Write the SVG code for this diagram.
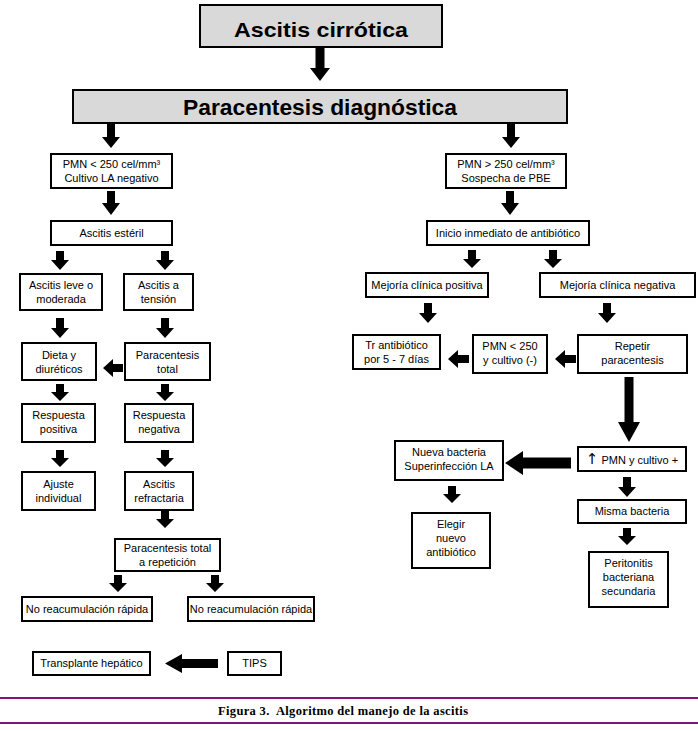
<svg xmlns="http://www.w3.org/2000/svg" width="698" height="731" viewBox="0 0 698 731">
<style>
.box{fill:#fff;stroke:#000;stroke-width:2}
.gbox{fill:#d9d9d9;stroke:#000;stroke-width:2}
.t{font-family:"Liberation Sans",Arial,sans-serif;font-size:11px;fill:#000;text-anchor:middle}
.h{font-family:"Liberation Sans",Arial,sans-serif;font-weight:bold;fill:#000;text-anchor:middle}
.arr{fill:#000;stroke:none}
.cap{font-family:"Liberation Serif","Times New Roman",serif;font-weight:bold;font-size:12.5px;fill:#000;text-anchor:middle}
.rule{stroke:#7b177b;stroke-width:2}
</style>
<rect width="698" height="731" fill="#fff"/>
<g id="connectors">
<path class="arr" d="M315.5,48H324.5V68H330L320,81L310,68H315.5Z"/>
<path class="arr" d="M107,124H115V137H120L111,148L102,137H107Z"/>
<path class="arr" d="M507,124H515V137H520L511,148L502,137H507Z"/>
<path class="arr" d="M107,191H115V203H120L111,215L102,203H107Z"/>
<path class="arr" d="M506,191H514V203H519L510,215L501,203H506Z"/>
<path class="arr" d="M56,251H64V260H69L60,270L51,260H56Z"/>
<path class="arr" d="M161,251H169V260H174L165,270L156,260H161Z"/>
<path class="arr" d="M468,250H476V259H481L472,268L463,259H468Z"/>
<path class="arr" d="M549,250H557V259H562L553,268L544,259H549Z"/>
<path class="arr" d="M56,318H64V328H69L60,338L51,328H56Z"/>
<path class="arr" d="M161,318H169V328H174L165,338L156,328H161Z"/>
<path class="arr" d="M424,303H432V313H437L428,323L419,313H424Z"/>
<path class="arr" d="M603,303H611V313H616L607,323L598,313H603Z"/>
<path class="arr" d="M123,364V372H113V377L103,368L113,359V364Z"/>
<path class="arr" d="M56,384H64V392H69L60,401L51,392H56Z"/>
<path class="arr" d="M161,384H169V392H174L165,401L156,392H161Z"/>
<path class="arr" d="M469,355V363H458V368L448,359L458,350V355Z"/>
<path class="arr" d="M576,355V363H565V368L555,359L565,350V355Z"/>
<path class="arr" d="M56,450H64V458H69L60,467L51,458H56Z"/>
<path class="arr" d="M161,450H169V458H174L165,467L156,458H161Z"/>
<path class="arr" d="M624.5,377H633.5V422H640L629,442L618,422H624.5Z"/>
<path class="arr" d="M571,457.5V468.5H523V475L505,463L523,451V457.5Z"/>
<path class="arr" d="M448,486H456V494H461L452,503L443,494H448Z"/>
<path class="arr" d="M623,477H631V487H636L627,497L618,487H623Z"/>
<path class="arr" d="M161,511H169V519H174L165,528L156,519H161Z"/>
<path class="arr" d="M623,528H631V536H636L627,545L618,536H623Z"/>
<path class="arr" d="M114,575H122V583H127L118,592L109,583H114Z"/>
<path class="arr" d="M211,575H219V583H224L215,592L206,583H211Z"/>
<path class="arr" d="M218,659V668H182V673L165,663.5L182,654V659Z"/>
</g>
<g id="n_cirrotica"><rect class="gbox" x="200" y="5" width="242" height="42"/><text class="h" x="321" y="37" font-size="21" textLength="174" lengthAdjust="spacingAndGlyphs">Ascitis cirrótica</text></g>
<g id="n_paradiag"><rect class="gbox" x="73" y="90" width="494" height="33"/><text class="h" x="320" y="115" font-size="22" textLength="274" lengthAdjust="spacingAndGlyphs">Paracentesis diagnóstica</text></g>
<g id="n_pmn_lt"><rect class="box" x="51" y="154" width="121" height="34"/><text class="t" x="111.5" y="168">PMN &lt; 250 cel/mm³</text><text class="t" x="111.5" y="182">Cultivo LA negativo</text></g>
<g id="n_pmn_gt"><rect class="box" x="446" y="154" width="120" height="34"/><text class="t" x="506" y="168">PMN &gt; 250 cel/mm³</text><text class="t" x="506" y="182">Sospecha de PBE</text></g>
<g id="n_esteril"><rect class="box" x="51" y="221" width="121" height="24"/><text class="t" x="111.5" y="237">Ascitis estéril</text></g>
<g id="n_inicio"><rect class="box" x="427" y="221" width="162" height="24"/><text class="t" x="508" y="237">Inicio inmediato de antibiótico</text></g>
<g id="n_leve"><rect class="box" x="20" y="274" width="82" height="36"/><text class="t" x="61" y="289">Ascitis leve o</text><text class="t" x="61" y="303">moderada</text></g>
<g id="n_tension"><rect class="box" x="124" y="274" width="69" height="36"/><text class="t" x="158.5" y="289">Ascitis a</text><text class="t" x="158.5" y="303">tensión</text></g>
<g id="n_mej_pos"><rect class="box" x="366" y="273" width="122" height="24"/><text class="t" x="427" y="289">Mejoría clínica positiva</text></g>
<g id="n_mej_neg"><rect class="box" x="540" y="273" width="155" height="24"/><text class="t" x="617.5" y="289">Mejoría clínica negativa</text></g>
<g id="n_dieta"><rect class="box" x="22" y="343" width="74" height="37"/><text class="t" x="59" y="359">Dieta y</text><text class="t" x="59" y="373">diuréticos</text></g>
<g id="n_paratotal"><rect class="box" x="125" y="343" width="85" height="37"/><text class="t" x="167.5" y="359">Paracentesis</text><text class="t" x="167.5" y="373">total</text></g>
<g id="n_resp_pos"><rect class="box" x="22" y="404" width="73" height="38"/><text class="t" x="58.5" y="419">Respuesta</text><text class="t" x="58.5" y="433">positiva</text></g>
<g id="n_resp_neg"><rect class="box" x="125" y="404" width="68" height="38"/><text class="t" x="159" y="419">Respuesta</text><text class="t" x="159" y="433">negativa</text></g>
<g id="n_ajuste"><rect class="box" x="22" y="472" width="73" height="38"/><text class="t" x="58.5" y="488">Ajuste</text><text class="t" x="58.5" y="502">individual</text></g>
<g id="n_refractaria"><rect class="box" x="125" y="472" width="68" height="38"/><text class="t" x="159" y="488">Ascitis</text><text class="t" x="159" y="502">refractaria</text></g>
<g id="n_tr"><rect class="box" x="353" y="335" width="87" height="34"/><text class="t" x="396.5" y="349">Tr antibiótico</text><text class="t" x="396.5" y="363">por 5 - 7 días</text></g>
<g id="n_pmn250"><rect class="box" x="473" y="335" width="74" height="38"/><text class="t" x="510" y="350">PMN &lt; 250</text><text class="t" x="510" y="364">y cultivo (-)</text></g>
<g id="n_repetir"><rect class="box" x="578" y="335" width="109" height="38"/><text class="t" x="632.5" y="350">Repetir</text><text class="t" x="632.5" y="364">paracentesis</text></g>
<g id="n_nueva"><rect class="box" x="395" y="441" width="108" height="39"/><text class="t" x="449" y="456">Nueva bacteria</text><text class="t" x="449" y="470">Superinfección LA</text></g>
<g id="n_pmn_plus"><rect class="box" x="578" y="447" width="108" height="24"/><text class="t" x="632" y="464"><tspan font-family="DejaVu Sans,sans-serif" font-size="15">↑</tspan> PMN y cultivo +</text></g>
<g id="n_misma"><rect class="box" x="578" y="500" width="108" height="23"/><text class="t" x="632" y="515">Misma bacteria</text></g>
<g id="n_elegir"><rect class="box" x="412" y="513" width="78" height="55"/><text class="t" x="451" y="528">Elegir</text><text class="t" x="451" y="542">nuevo</text><text class="t" x="451" y="556">antibiótico</text></g>
<g id="n_peritonitis"><rect class="box" x="589" y="552" width="79" height="55"/><text class="t" x="628.5" y="567">Peritonitis</text><text class="t" x="628.5" y="581">bacteriana</text><text class="t" x="628.5" y="595">secundaria</text></g>
<g id="n_repeticion"><rect class="box" x="115" y="539" width="105" height="32"/><text class="t" x="167.5" y="552">Paracentesis total</text><text class="t" x="167.5" y="566">a repetición</text></g>
<g id="n_noreac1"><rect class="box" x="22" y="597" width="130" height="24"/><text class="t" x="87" y="613">No reacumulación rápida</text></g>
<g id="n_noreac2"><rect class="box" x="188" y="597" width="126" height="24"/><text class="t" x="251" y="613">No reacumulación rápida</text></g>
<g id="n_transplante"><rect class="box" x="33" y="652" width="117" height="23"/><text class="t" x="91.5" y="667">Transplante hepático</text></g>
<g id="n_tips"><rect class="box" x="228" y="652" width="53" height="23"/><text class="t" x="254.5" y="667">TIPS</text></g>
<g id="caption">
<line class="rule" x1="0" y1="698" x2="698" y2="698"/>
<line class="rule" x1="0" y1="723" x2="698" y2="723"/>
<text class="cap" x="343" y="715" xml:space="preserve" textLength="250" lengthAdjust="spacing">Figura 3.  Algoritmo del manejo de la ascitis</text>
</g>
</svg>
